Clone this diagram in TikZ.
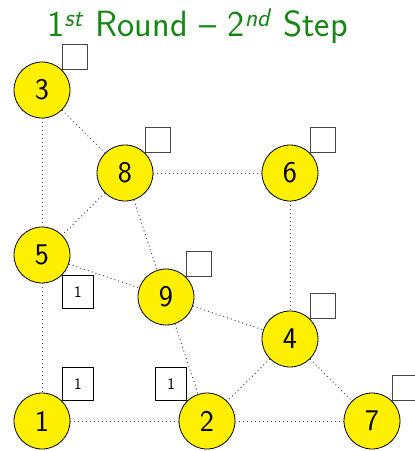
\documentclass[tikz,border=0pt]{standalone}
\usepackage{tikz}
\renewcommand{\familydefault}{\sfdefault}
\definecolor{titlegreen}{RGB}{20,135,20}
\definecolor{nodeyellow}{RGB}{255,240,0}
\definecolor{boxgray}{RGB}{70,70,70}
\tikzset{
  vert/.style={circle,draw=black,line width=0.8pt,fill=nodeyellow,minimum size=56pt,inner sep=0pt,font=\fontsize{30}{32}\selectfont},
  ebox/.style={draw=boxgray,line width=0.8pt,minimum width=25pt,minimum height=25pt,inner sep=0pt},
  nbox/.style={draw=black,line width=0.6pt,minimum width=31pt,minimum height=33pt,inner sep=0pt,font=\fontsize{16}{17}\selectfont},
  edge/.style={line width=1pt,draw=black!70,dash pattern=on 1pt off 3pt}
}
\begin{document}
\begin{tikzpicture}[x=1pt,y=-1pt]
\useasboundingbox (0,0) rectangle (415,451);
\node[anchor=base,text=titlegreen,font=\fontsize{36.5}{38}\selectfont,inner sep=0pt] (title) at (197.5,36) {1\textsuperscript{\textit{st}} Round -- 2\textsuperscript{\textit{nd}} Step};
\node[vert] (n3) at (42,90) {3};
\node[vert] (n8) at (125,173) {8};
\node[vert] (n6) at (290,173) {6};
\node[vert] (n5) at (42,255) {5};
\node[vert] (n9) at (166,297) {9};
\node[vert] (n4) at (290,339) {4};
\node[vert] (n1) at (42,421) {1};
\node[vert] (n2) at (207,421) {2};
\node[vert] (n7) at (372,421) {7};
\draw[edge] (n3) -- (n8);
\draw[edge] (n3) -- (n5);
\draw[edge] (n8) -- (n6);
\draw[edge] (n8) -- (n5);
\draw[edge] (n8) -- (n9);
\draw[edge] (n5) -- (n9);
\draw[edge] (n5) -- (n1);
\draw[edge] (n9) -- (n4);
\draw[edge] (n9) -- (n2);
\draw[edge] (n6) -- (n4);
\draw[edge] (n4) -- (n2);
\draw[edge] (n4) -- (n7);
\draw[edge] (n1) -- (n2);
\draw[edge] (n2) -- (n7);
\node[ebox,anchor=south west] (b3) at (n3.north east) {};
\node[ebox,anchor=south west] (b8) at (n8.north east) {};
\node[ebox,anchor=south west] (b6) at (n6.north east) {};
\node[ebox,anchor=south west] (b9) at (n9.north east) {};
\node[ebox,anchor=south west] (b4) at (n4.north east) {};
\node[ebox,anchor=south west] (b7) at (n7.north east) {};
\node[nbox,anchor=north west] (b5) at (n5.south east) {1};
\node[nbox,anchor=south west] (b1) at (n1.north east) {1};
\node[nbox,anchor=south east] (b2) at (n2.north west) {1};
\end{tikzpicture}
\end{document}
